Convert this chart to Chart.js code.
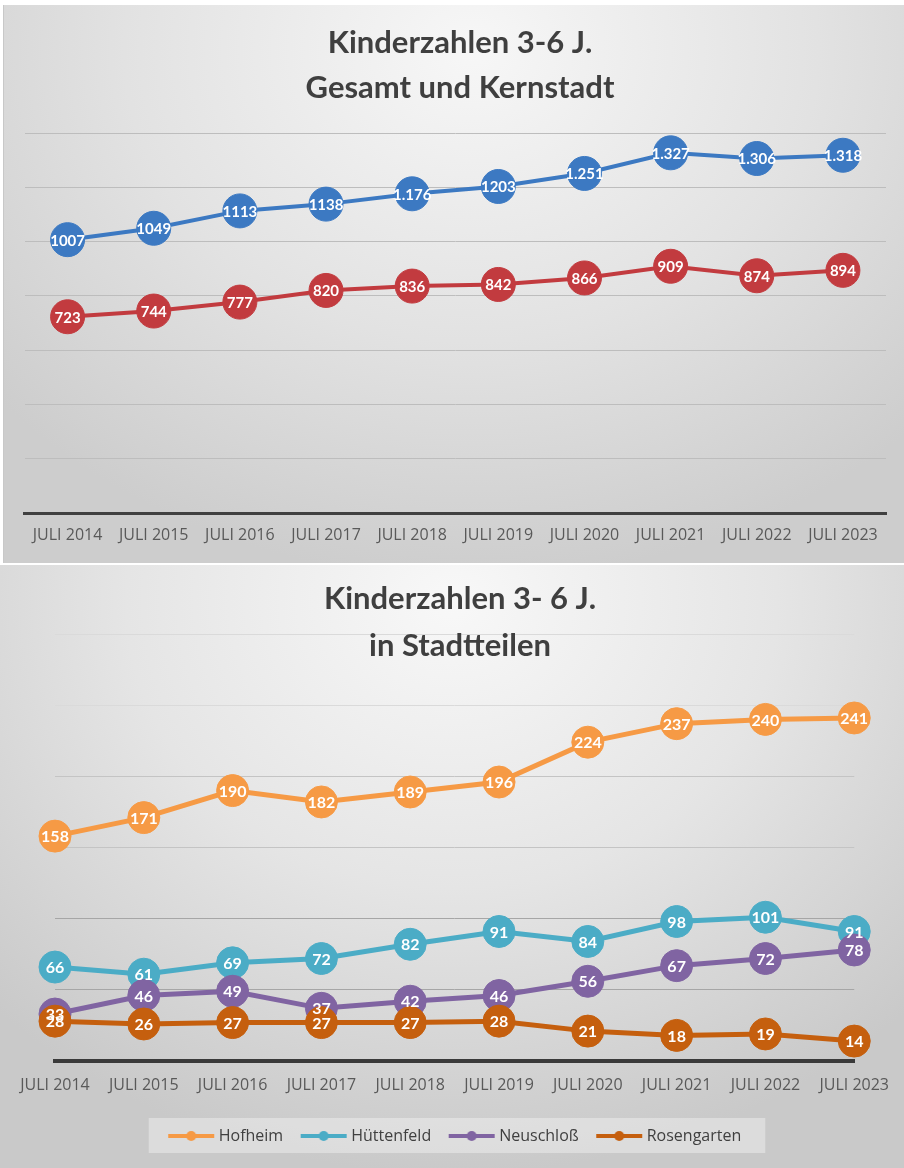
<!DOCTYPE html>
<html lang="de">
<head>
<meta charset="utf-8">
<title>Kinderzahlen 3-6 J.</title>
<script src="https://cdn.jsdelivr.net/npm/chart.js@4.4.1/dist/chart.umd.min.js"></script>
<style>
  html, body { margin: 0; padding: 0; background: #fff; }
  body { width: 904px; height: 1168px; position: relative; overflow: hidden; }
  .tafel { position: absolute; }
  .tafel canvas { display: block; }
  #tafelOben {
    left: 3px; top: 5px; width: 901px; height: 558px;
    background: radial-gradient(ellipse 70% 95% at 52% 8%, #f7f7f7 0%, #e2e2e2 55%, #cdcdcd 100%);
    box-shadow: inset 1px 0 0 #c8c8c8;
  }
  #tafelUnten {
    left: 0; top: 565px; width: 904px; height: 603px;
    background: radial-gradient(ellipse 72% 95% at 50% 6%, #f8f8f8 0%, #e5e5e5 50%, #c9c9c9 100%);
  }
</style>
</head>
<body>
<div class="tafel" id="tafelOben"><canvas id="chartGesamt" width="901" height="558"></canvas></div>
<div class="tafel" id="tafelUnten"><canvas id="chartStadtteile" width="904" height="603"></canvas></div>

<script>
/* Kinderzahlen 3-6 Jahre, Stichtag jeweils Juli */
const JAHRE = ['JULI 2014', 'JULI 2015', 'JULI 2016', 'JULI 2017', 'JULI 2018',
  'JULI 2019', 'JULI 2020', 'JULI 2021', 'JULI 2022', 'JULI 2023'];

const GESAMT = [1007, 1049, 1113, 1138, 1176, 1203, 1251, 1327, 1306, 1318];
// in der Vorlage teils mit, teils ohne Tausenderpunkt beschriftet
const GESAMT_MIT_PUNKT = [false, false, false, false, true, false, true, true, true, true];
const KERNSTADT = [723, 744, 777, 820, 836, 842, 866, 909, 874, 894];

const HOFHEIM = [158, 171, 190, 182, 189, 196, 224, 237, 240, 241];
const HUETTENFELD = [66, 61, 69, 72, 82, 91, 84, 98, 101, 91];
const NEUSCHLOSS = [33, 46, 49, 37, 42, 46, 56, 67, 72, 78];
const ROSENGARTEN = [28, 26, 27, 27, 27, 28, 21, 18, 19, 14];

const Y_GESAMT = { max: 1400, schritt: 200 };
const Y_STADTTEILE = { max: 300, schritt: 50 };

Chart.defaults.font.family = "'Open Sans', 'DejaVu Sans', sans-serif";
Chart.defaults.color = '#595959';

const mitPunkt = v => Math.floor(v / 1000) + '.' + String(v % 1000).padStart(3, '0');

// Zweizeiliger Titel, frei positioniert (darf über der obersten Gitterlinie liegen)
function titel(zeilen, mitteX, zeilenY) {
  return {
    id: 'titel',
    afterDraw(chart) {
      const ctx = chart.ctx;
      ctx.save();
      ctx.font = "bold 31px Lato, 'Open Sans', sans-serif";
      ctx.fillStyle = '#3f3f3f';
      ctx.textAlign = 'center';
      ctx.textBaseline = 'middle';
      zeilen.forEach((z, i) => ctx.fillText(z, mitteX, zeilenY[i]));
      ctx.restore();
    },
  };
}

// Werte weiß in die Kreise schreiben, nach allen Reihen (Beschriftungen liegen über allen Kreisen)
function werte(texte, groesse) {
  return {
    id: 'werte',
    afterDatasetsDraw(chart) {
      const ctx = chart.ctx;
      ctx.save();
      ctx.font = 'bold ' + groesse + "px Lato, 'Open Sans', sans-serif";
      ctx.fillStyle = '#ffffff';
      ctx.textAlign = 'center';
      ctx.textBaseline = 'middle';
      texte.forEach((t, d) => {
        chart.getDatasetMeta(d).data.forEach((pt, i) => ctx.fillText(t[i], pt.x, pt.y + 1));
      });
      ctx.restore();
    },
  };
}

// Legenden-Hintergrund hinter den Einträgen
const legendenFeld = {
  id: 'legendenFeld',
  beforeDraw(chart) {
    const hb = chart.legend && chart.legend.legendHitBoxes;
    if (!hb || !hb.length) return;
    const l = Math.min(...hb.map(h => h.left)) - 23;
    const r = Math.max(...hb.map(h => h.left + h.width)) + 24;
    const t = hb[0].top - 10;
    const ctx = chart.ctx;
    ctx.save();
    ctx.fillStyle = 'rgba(255,255,255,0.35)';
    ctx.fillRect(l, t, r - l, 35);
    ctx.restore();
  },
};

function reihe(label, data, farbe, radius, linie) {
  return {
    label, data,
    borderColor: farbe, backgroundColor: farbe,
    borderWidth: linie, tension: 0,
    pointRadius: radius, pointHoverRadius: radius,
    pointBorderWidth: 1, pointBorderColor: farbe, pointBackgroundColor: farbe,
    clip: false,
  };
}

function legendenZeichen(farbe) {
  const c = document.createElement('canvas');
  c.width = 48; c.height = 12;
  const g = c.getContext('2d');
  g.strokeStyle = farbe; g.lineWidth = 4;
  g.beginPath(); g.moveTo(1, 6); g.lineTo(47, 6); g.stroke();
  g.fillStyle = farbe;
  g.beginPath(); g.arc(24, 6, 5, 0, Math.PI * 2); g.fill();
  return c;
}

/* ---------- Gesamt und Kernstadt ---------- */
new Chart(document.getElementById('chartGesamt'), {
  type: 'line',
  data: {
    labels: JAHRE,
    datasets: [
      reihe('Gesamt', GESAMT, '#3c79c2', 17, 4),
      reihe('Kernstadt', KERNSTADT, '#c23b3f', 17, 4),
    ],
  },
  options: {
    responsive: false, animation: false,
    layout: { padding: { left: 21.5, right: 10.5, top: 128, bottom: 0 } },
    plugins: { legend: { display: false }, tooltip: { enabled: false } },
    scales: {
      x: {
        offset: true,
        grid: { display: false, drawTicks: false },
        border: { display: true, color: '#404040', width: 3 },
        ticks: { color: '#595959', font: { size: 16 }, padding: 13, maxRotation: 0, autoSkip: false },
        afterFit: s => { s.height = 50; },
      },
      y: {
        min: 0, max: Y_GESAMT.max,
        ticks: { display: false, stepSize: Y_GESAMT.schritt },
        grid: { color: '#bdbdbd', lineWidth: 1, drawTicks: false },
        border: { display: false },
      },
    },
  },
  plugins: [
    titel(['Kinderzahlen 3-6 J.', 'Gesamt und Kernstadt'], 457, [38, 83]),
    werte([
      GESAMT.map((v, i) => GESAMT_MIT_PUNKT[i] ? mitPunkt(v) : String(v)),
      KERNSTADT.map(String),
    ], 15),
  ],
});

/* ---------- Stadtteile ---------- */
const STADTTEIL_FARBEN = ['#f69a45', '#4bacc6', '#8064a2', '#c55f0e'];
const zeichen = STADTTEIL_FARBEN.map(legendenZeichen);
const stadtteilReihen = [
  reihe('Hofheim', HOFHEIM, STADTTEIL_FARBEN[0], 16, 5),
  reihe('Hüttenfeld', HUETTENFELD, STADTTEIL_FARBEN[1], 16, 5),
  reihe('Neuschloß', NEUSCHLOSS, STADTTEIL_FARBEN[2], 16, 5),
  reihe('Rosengarten', ROSENGARTEN, STADTTEIL_FARBEN[3], 16, 5),
];
// spätere Reihen liegen oben
stadtteilReihen.forEach((r, i) => { r.order = stadtteilReihen.length - 1 - i; });

new Chart(document.getElementById('chartStadtteile'), {
  type: 'line',
  data: { labels: JAHRE, datasets: stadtteilReihen },
  options: {
    responsive: false, animation: false,
    layout: { padding: { left: 55, right: 46, top: 69, bottom: 14 } },
    plugins: {
      tooltip: { enabled: false },
      legend: {
        position: 'bottom',
        labels: {
          color: '#404040',
          font: { size: 16 },
          usePointStyle: true,
          pointStyleWidth: 39,
          padding: 21,
          sort: (a, b) => a.datasetIndex - b.datasetIndex,
          generateLabels(chart) {
            const items = Chart.defaults.plugins.legend.labels.generateLabels(chart);
            items.forEach(it => { it.pointStyle = zeichen[it.datasetIndex]; });
            return items;
          },
        },
      },
    },
    scales: {
      x: {
        offset: false,
        grid: { display: false, drawTicks: false },
        border: { display: true, color: '#3a3a3a', width: 4 },
        ticks: { color: '#595959', font: { size: 16 }, padding: 15, maxRotation: 0, autoSkip: false },
        afterFit: s => { s.height = 46; },
      },
      y: {
        min: 0, max: Y_STADTTEILE.max,
        ticks: { display: false, stepSize: Y_STADTTEILE.schritt },
        grid: {
          drawTicks: false, lineWidth: 1,
          color: ctx => (ctx.tick && ctx.tick.value >= 250) ? '#dadada' : (ctx.tick && ctx.tick.value >= 150 ? '#c4c4c4' : '#a6a6a6'),
        },
        border: { display: false },
      },
    },
  },
  plugins: [
    legendenFeld,
    titel(['Kinderzahlen 3- 6 J.', 'in Stadtteilen'], 460, [34, 81]),
    werte([HOFHEIM, HUETTENFELD, NEUSCHLOSS, ROSENGARTEN].map(a => a.map(String)), 16),
  ],
});
</script>
</body>
</html>
